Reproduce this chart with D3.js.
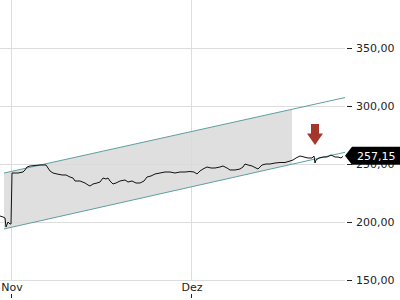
<!DOCTYPE html>
<html>
<head>
<meta charset="utf-8">
<script src="https://cdn.jsdelivr.net/npm/d3@7"></script>
<style>
  body { margin: 0; background: #fff; }
  svg { display: block; font-family: "DejaVu Sans", sans-serif; }
</style>
</head>
<body>
<div id="chart"></div>
<script>
// price series
var times = [
  "2021-10-30T04:00", "2021-10-30T16:00", "2021-10-31T00:00", "2021-10-31T04:00", "2021-10-31T12:00",
  "2021-10-31T20:00", "2021-11-01T00:00", "2021-11-01T04:00", "2021-11-02T04:00", "2021-11-03T00:00",
  "2021-11-03T08:00", "2021-11-03T16:00", "2021-11-04T04:00", "2021-11-05T20:00", "2021-11-06T20:00",
  "2021-11-07T04:00", "2021-11-07T12:00", "2021-11-08T00:00", "2021-11-08T16:00", "2021-11-09T12:00",
  "2021-11-10T04:00", "2021-11-10T20:00", "2021-11-11T08:00", "2021-11-11T16:00", "2021-11-12T12:00",
  "2021-11-13T08:00", "2021-11-13T20:00", "2021-11-14T04:00", "2021-11-14T16:00", "2021-11-15T08:00",
  "2021-11-15T20:00", "2021-11-16T08:00", "2021-11-16T20:00", "2021-11-17T04:00", "2021-11-17T12:00",
  "2021-11-18T00:00", "2021-11-18T12:00", "2021-11-19T04:00", "2021-11-20T00:00", "2021-11-20T12:00",
  "2021-11-21T04:00", "2021-11-21T20:00", "2021-11-22T12:00", "2021-11-23T04:00", "2021-11-23T16:00",
  "2021-11-24T08:00", "2021-11-25T00:00", "2021-11-25T20:00", "2021-11-26T16:00", "2021-11-27T12:00",
  "2021-11-28T08:00", "2021-11-29T04:00", "2021-11-30T00:00", "2021-11-30T20:00", "2021-12-01T12:00",
  "2021-12-02T00:00", "2021-12-02T12:00", "2021-12-03T00:00", "2021-12-03T16:00", "2021-12-04T08:00",
  "2021-12-05T00:00", "2021-12-05T20:00", "2021-12-06T08:00", "2021-12-07T00:00", "2021-12-07T12:00",
  "2021-12-08T08:00", "2021-12-09T04:00", "2021-12-09T16:00", "2021-12-10T00:00", "2021-12-10T12:00",
  "2021-12-11T04:00", "2021-12-11T20:00", "2021-12-12T04:00", "2021-12-12T20:00", "2021-12-13T12:00",
  "2021-12-14T04:00", "2021-12-15T00:00", "2021-12-15T20:00", "2021-12-16T16:00", "2021-12-17T12:00",
  "2021-12-18T00:00", "2021-12-18T12:00", "2021-12-19T04:00", "2021-12-19T20:00", "2021-12-20T12:00",
  "2021-12-21T04:00", "2021-12-21T12:00", "2021-12-21T16:00", "2021-12-21T20:00", "2021-12-22T08:00",
  "2021-12-23T00:00", "2021-12-23T16:00", "2021-12-24T08:00", "2021-12-25T00:00", "2021-12-25T12:00",
  "2021-12-26T00:00", "2021-12-26T08:00"
]
var prices = [
  205.17, 204.31, 203.45, 195.69, 200.00,
  198.28, 198.28, 242.24, 242.24, 243.10,
  244.83, 247.41, 248.28, 249.14, 249.14,
  246.55, 243.97, 242.24, 241.38, 240.52,
  240.52, 238.79, 237.93, 235.34, 235.34,
  233.62, 231.90, 231.03, 232.76, 233.62,
  234.48, 237.93, 237.07, 237.93, 235.34,
  232.76, 233.62, 235.34, 236.21, 234.48,
  235.34, 233.62, 233.62, 235.34, 238.79,
  239.66, 241.38, 242.24, 243.10, 243.10,
  242.24, 243.10, 243.10, 243.53, 243.10,
  241.38, 243.97, 245.69, 247.41, 246.55,
  246.55, 247.41, 248.28, 246.55, 244.83,
  244.83, 245.69, 247.41, 250.00, 249.14,
  248.28, 246.55, 245.69, 249.14, 250.00,
  250.00, 250.86, 251.29, 251.29, 252.59,
  253.45, 255.17, 256.90, 256.03, 255.17,
  255.17, 256.90, 250.86, 253.45, 255.17,
  256.03, 256.03, 257.76, 256.03, 256.03,
  255.17, 256.60
]
var lastPrice = "257,15"

// trend channel (start / end)
var channelTimes = ["2021-10-30T20:00", "2021-12-26T16:00"]
var channelUpper = [242.2, 307.3]
var channelLower = [194.0, 260.1]
var channelFillEnd = "2021-12-17T20:00"

// sell signal arrow
var signalTime = "2021-12-21T16:00"
var signalTop = 284.5
var signalTip = 266.4

var yTicks = [150, 200, 250, 300, 350]
var xTicks = ["2021-11-01T00:00", "2021-12-01T00:00"]
var xTickLabels = ["Nov", "Dez"]

var parse = d3.timeParse("%Y-%m-%dT%H:%M")
var data = times.map(function(t, i) { return { date: parse(t), value: prices[i] }; })

var W = 400, H = 300
var plotRight = 345, plotBottom = 280
var FONT = "DejaVu Sans, sans-serif"

var svg = d3.select("#chart").append("svg")
  .attr("width", W)
  .attr("height", H)

var x = d3.scaleTime()
  .domain([parse("2021-10-30T04:00"), parse("2021-12-26T16:00")])
  .range([0, plotRight])

var y = d3.scaleLinear()
  .domain([150, 350])
  .range([plotBottom, 48])

// grid
svg.append("g")
  .selectAll("line.h")
  .data(yTicks)
  .enter().append("line")
  .attr("x1", 0).attr("x2", plotRight)
  .attr("y1", function(d) { return y(d) + 0.5; })
  .attr("y2", function(d) { return y(d) + 0.5; })
  .attr("stroke", "#dcdcdc")

svg.append("g")
  .selectAll("line.v")
  .data(xTicks)
  .enter().append("line")
  .attr("x1", function(d) { return Math.round(x(parse(d))) + 0.5; })
  .attr("x2", function(d) { return Math.round(x(parse(d))) + 0.5; })
  .attr("y1", 0).attr("y2", plotBottom)
  .attr("stroke", "#dcdcdc")

// channel fill
var cx0 = parse(channelTimes[0]), cx1 = parse(channelTimes[1])
var upperAt = function(t) { return channelUpper[0] + (channelUpper[1] - channelUpper[0]) * (t - cx0) / (cx1 - cx0); }
var lowerAt = function(t) { return channelLower[0] + (channelLower[1] - channelLower[0]) * (t - cx0) / (cx1 - cx0); }
var fe = parse(channelFillEnd)
var fillPts = [[cx0, upperAt(cx0)], [fe, upperAt(fe)], [fe, lowerAt(fe)], [cx0, lowerAt(cx0)]]

svg.append("path")
  .attr("d", "M" + fillPts.map(function(p) { return x(p[0]) + "," + y(p[1]); }).join("L") + "Z")
  .attr("fill", "#d9d9d9")
  .attr("fill-opacity", 0.85)

// channel lines
var chLine = d3.line()
  .x(function(d, i) { return x(parse(channelTimes[i])); })
  .y(function(d) { return y(d); })

svg.append("path").attr("d", chLine(channelUpper))
  .attr("fill", "none").attr("stroke", "#5e9fa3").attr("stroke-width", 1)
svg.append("path").attr("d", chLine(channelLower))
  .attr("fill", "none").attr("stroke", "#5e9fa3").attr("stroke-width", 1)

// price line
var line = d3.line()
  .x(function(d) { return x(d.date); })
  .y(function(d) { return y(d.value); })

svg.append("path")
  .datum(data)
  .attr("d", line)
  .attr("fill", "none")
  .attr("stroke", "#111")
  .attr("stroke-width", 1)

// signal arrow
var ax = x(parse(signalTime)), ay0 = y(signalTop), ay1 = y(signalTip)
var headY = ay0 + (ay1 - ay0) * 0.45
svg.append("path")
  .attr("d", "M" + (ax - 4) + "," + ay0 + "L" + (ax + 4) + "," + ay0 + "L" + (ax + 4) + "," + headY +
    "L" + (ax + 8) + "," + headY + "L" + ax + "," + ay1 + "L" + (ax - 8) + "," + headY +
    "L" + (ax - 4) + "," + headY + "Z")
  .attr("fill", "#a3372c")

// right axis
var yAxis = svg.append("g")
  .attr("transform", "translate(" + (plotRight + 2) + ",0)")
  .call(d3.axisRight(y).tickValues(yTicks).tickSize(5).tickPadding(4)
    .tickFormat(function(d) { return d3.format(".2f")(d).replace(".", ","); }))
yAxis.attr("font-family", FONT).attr("font-size", 11)
yAxis.select(".domain").remove()
yAxis.selectAll("line").attr("stroke", "#222")
yAxis.selectAll("text").attr("fill", "#222")

// bottom axis
var xg = svg.append("g")
xg.selectAll("text")
  .data(xTicks)
  .enter().append("text")
  .attr("x", function(d) { return x(parse(d)) + 1; })
  .attr("y", 291)
  .attr("text-anchor", "middle")
  .attr("font-family", FONT)
  .attr("font-size", 11)
  .attr("fill", "#222")
  .text(function(d, i) { return xTickLabels[i]; })
xg.selectAll("line")
  .data(xTicks)
  .enter().append("line")
  .attr("x1", function(d) { return Math.round(x(parse(d))) + 0.5; })
  .attr("x2", function(d) { return Math.round(x(parse(d))) + 0.5; })
  .attr("y1", 294).attr("y2", 298)
  .attr("stroke", "#222")

// last price badge
var ly = y(257.15)
svg.append("path")
  .attr("d", "M" + plotRight + "," + ly + "L" + (plotRight + 7) + "," + (ly - 9) + "L" + W + "," + (ly - 9) +
    "L" + W + "," + (ly + 9) + "L" + (plotRight + 7) + "," + (ly + 9) + "Z")
  .attr("fill", "#000")
svg.append("text")
  .attr("x", 357)
  .attr("y", ly + 4.5)
  .attr("font-family", FONT)
  .attr("font-size", 11)
  .attr("fill", "#fff")
  .text(lastPrice)
</script>
</body>
</html>
